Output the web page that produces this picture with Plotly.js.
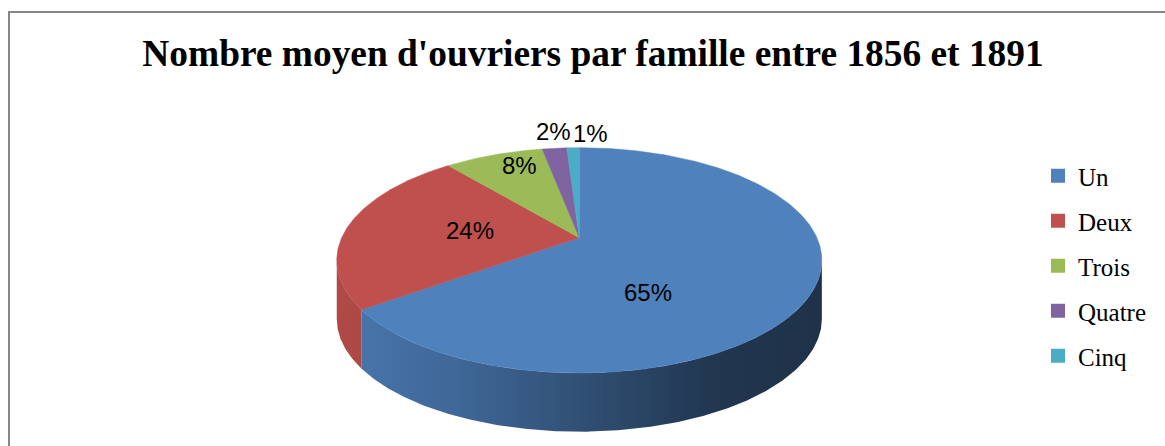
<!DOCTYPE html>
<html>
<head>
<meta charset="utf-8">
<script src="https://cdn.plot.ly/plotly-3.0.1.min.js"></script>
<style>html,body{margin:0;padding:0;background:#fff;}#chart{width:1165px;height:446px;}</style>
</head>
<body>
<div id="chart"></div>
<script>
// ---- data ----
const categories = ['Un', 'Deux', 'Trois', 'Quatre', 'Cinq'];
const values = [65, 24, 8, 2, 1];
const colors = ['#4f81bd', '#c0504d', '#9bbb59', '#8064a2', '#4bacc6'];
const chartTitle = "Nombre moyen d'ouvriers par famille entre 1856 et 1891";

// ---- 3D pie geometry (pixel axes) ----
const W = 1165, H = 446;
const cx = 579.3, cy = 237.7;   // apex of the pie
const A = 237.6, B = 108.1, P = 0.201; // perspective ellipse
const DEPTH = 58.7;
// label placement: radial fraction and angular shift (deg) per slice
const labelR = [0.53, 0.47, 0.82, 1.23, 1.19];
const labelShift = [33.5, 0.9, 4.3, 0.8, 4.5];

function proj(r, thDeg, dy) {
  const t = thDeg * Math.PI / 180;
  const u = r * Math.sin(t), v = r * Math.cos(t);
  const k = 1 + P * v;
  return [cx + A * u / k, cy - B * v / k + (dy || 0)];
}
function arc(a, b, dy) {
  const pts = [];
  const n = Math.max(2, Math.ceil(Math.abs(b - a) / 0.5));
  for (let i = 0; i <= n; i++) pts.push(proj(1, a + (b - a) * i / n, dy));
  return pts;
}
function shade(hex, f) {
  const n = parseInt(hex.slice(1), 16);
  const r = Math.round(((n >> 16) & 255) * f), g = Math.round(((n >> 8) & 255) * f), b = Math.round((n & 255) * f);
  return 'rgb(' + r + ',' + g + ',' + b + ')';
}

const total = values.reduce((s, v) => s + v, 0);
const starts = [], ends = [];
let acc = 0;
values.forEach(v => { starts.push(acc / total * 360); acc += v; ends.push(acc / total * 360); });

const thRight = Math.atan2(Math.sqrt(1 - P * P), -P) * 180 / Math.PI; // ~101.6
const thLeft = 360 - thRight;
const xLeft = proj(1, thLeft)[0], xRight = proj(1, thRight)[0];

const traces = [];
// side walls
values.forEach((v, i) => {
  const a = Math.max(starts[i], thRight), b = Math.min(ends[i], thLeft);
  if (b <= a) return;
  const top = arc(a, b, 0);
  const bot = arc(b, a, DEPTH);
  const pts = top.concat(bot);
  pts.push(top[0]);
  traces.push({
    type: 'scatter', mode: 'lines', fill: 'toself',
    x: pts.map(p => p[0]), y: pts.map(p => p[1]),
    line: {width: 0, color: shade(colors[i], 0.6)},
    fillcolor: shade(colors[i], 0.6),
    fillgradient: {
      type: 'horizontal', start: xLeft, stop: xRight,
      colorscale: [[0, shade(colors[i], 0.92)], [0.25, shade(colors[i], 0.8)], [0.5, shade(colors[i], 0.62)], [0.78, shade(colors[i], 0.42)], [1, shade(colors[i], 0.39)]]
    },
    hoverinfo: 'skip', showlegend: false
  });
});
// top faces
values.forEach((v, i) => {
  const pts = [[cx, cy]].concat(arc(starts[i], ends[i], 0));
  pts.push([cx, cy]);
  traces.push({
    type: 'scatter', mode: 'lines', fill: 'toself',
    x: pts.map(p => p[0]), y: pts.map(p => p[1]),
    line: {width: 0.5, color: colors[i]}, fillcolor: colors[i],
    name: categories[i], text: categories[i] + ': ' + v,
    hoverinfo: 'text', showlegend: false
  });
});
// legend entries
categories.forEach((c, i) => {
  traces.push({
    type: 'scatter', mode: 'markers', x: [null], y: [null], name: c,
    legendgroup: c, marker: {symbol: 'square', size: 14, color: colors[i]},
    hoverinfo: 'skip'
  });
});

// percentage labels
const annotations = values.map((v, i) => {
  const mid = (starts[i] + ends[i]) / 2 + labelShift[i];
  const p = proj(labelR[i], mid);
  return {
    x: p[0], y: p[1], xref: 'x', yref: 'y', showarrow: false,
    text: Math.round(v / total * 100) + '%',
    font: {family: 'Liberation Sans, Arial, sans-serif', size: 24, color: '#000'},
    xanchor: 'center', yanchor: 'middle'
  };
});

const layout = {
  width: W, height: H,
  margin: {l: 0, r: 0, t: 0, b: 0},
  paper_bgcolor: '#fff', plot_bgcolor: 'rgba(0,0,0,0)',
  title: {
    text: '<b>' + chartTitle + '</b>',
    font: {family: 'Liberation Serif, Times New Roman, serif', size: 37.4, color: '#000'},
    x: 593 / W, xanchor: 'center', y: 1 - 53 / H, yanchor: 'middle', yref: 'container'
  },
  xaxis: {range: [0, W], visible: false, fixedrange: true},
  yaxis: {range: [H, 0], visible: false, fixedrange: true},
  showlegend: true,
  legend: {
    x: 1038 / W, xanchor: 'left', y: 1 - 153 / H, yanchor: 'top',
    traceorder: 'grouped', tracegroupgap: 9.5,
    font: {family: 'Liberation Serif, Times New Roman, serif', size: 25, color: '#000'},
    bgcolor: 'rgba(0,0,0,0)', borderwidth: 0
  },
  shapes: [{
    type: 'rect', xref: 'paper', yref: 'paper', x0: 9 / W, x1: 1.05, y0: -0.1, y1: 1 - 12 / H,
    line: {color: '#878787', width: 2}, layer: 'below'
  }],
  annotations: annotations
};

Plotly.newPlot('chart', traces, layout, {displayModeBar: false, staticPlot: false});
</script>
</body>
</html>
